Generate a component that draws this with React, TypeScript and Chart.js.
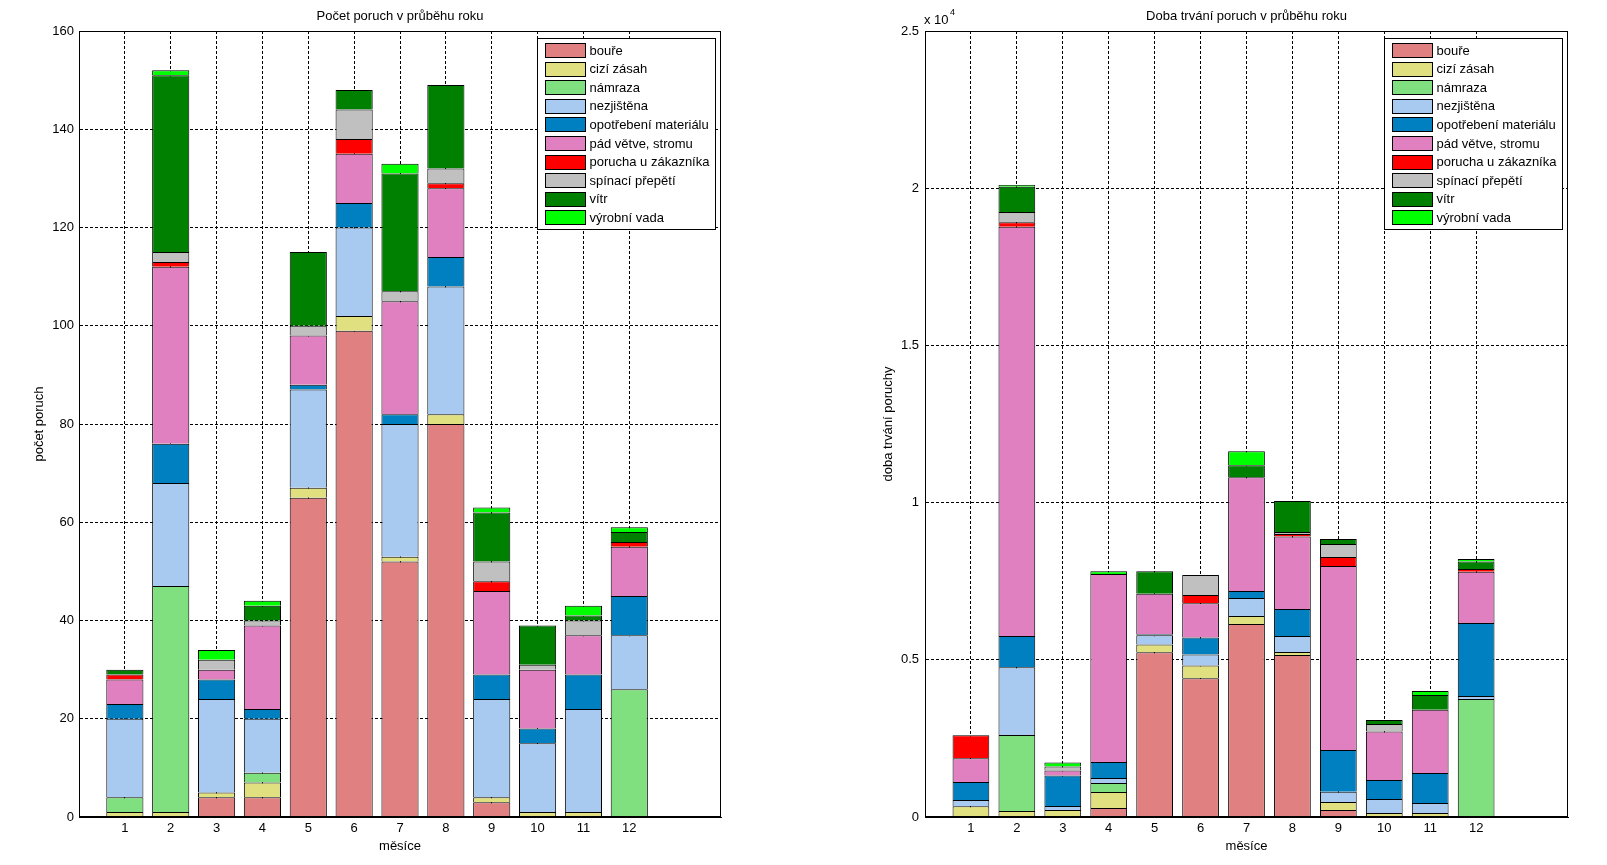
import React, { useEffect, useRef } from 'react';
import { Chart, registerables } from 'chart.js';

Chart.register(...registerables);

const FONT = '"Liberation Sans", Arial, Helvetica, sans-serif';

const months = [1, 2, 3, 4, 5, 6, 7, 8, 9, 10, 11, 12];

const seriesNames = [
  'bouře',
  'cizí zásah',
  'námraza',
  'nezjištěna',
  'opotřebení materiálu',
  'pád větve, stromu',
  'porucha u zákazníka',
  'spínací přepětí',
  'vítr',
  'výrobní vada',
];

const seriesColors = [
  '#E08080',
  '#E0E080',
  '#80E080',
  '#A8CAF0',
  '#0080C0',
  '#E080C0',
  '#FF0000',
  '#C0C0C0',
  '#008000',
  '#00FF00',
];

// Počet poruch (counts)
const pocetBoure = [0, 0, 4, 4, 65, 99, 52, 80, 3, 0, 0, 0];
const pocetCiziZasah = [1, 1, 1, 3, 2, 3, 1, 2, 1, 1, 1, 0];
const pocetNamraza = [3, 46, 0, 2, 0, 0, 0, 0, 0, 0, 0, 26];
const pocetNezjistena = [16, 21, 19, 11, 20, 18, 27, 26, 20, 14, 21, 11];
const pocetOpotrebeni = [3, 8, 4, 2, 1, 5, 2, 6, 5, 3, 7, 8];
const pocetPadVetve = [5, 36, 2, 17, 10, 10, 23, 14, 17, 12, 8, 10];
const pocetPorucha = [1, 1, 0, 0, 0, 3, 0, 1, 2, 0, 0, 1];
const pocetSpinaci = [0, 2, 2, 1, 2, 6, 2, 3, 4, 1, 3, 0];
const pocetVitr = [1, 36, 0, 3, 15, 4, 24, 17, 10, 8, 1, 2];
const pocetVyrobni = [0, 1, 2, 1, 0, 0, 2, 0, 1, 0, 2, 1];

// Doba trvání poruch (durations)
const dobaBoure = [0, 0, 0, 285, 5240, 4410, 6140, 5150, 225, 0, 0, 0];
const dobaCiziZasah = [340, 190, 220, 510, 250, 410, 255, 95, 255, 127, 127, 0];
const dobaNamraza = [0, 2420, 0, 285, 0, 0, 0, 0, 0, 0, 0, 3750];
const dobaNezjistena = [200, 2150, 130, 160, 290, 350, 570, 510, 320, 445, 318, 100];
const dobaOpotrebeni = [570, 1000, 970, 510, 30, 540, 225, 860, 1335, 605, 954, 2320];
const dobaPadVetve = [760, 13015, 160, 5980, 1290, 1085, 3620, 2310, 5850, 1545, 2014, 1630];
const dobaPorucha = [730, 140, 0, 0, 0, 265, 0, 75, 285, 0, 0, 85];
const dobaSpinaci = [0, 330, 125, 0, 0, 636, 0, 65, 415, 235, 0, 0];
const dobaVitr = [0, 805, 0, 0, 720, 0, 380, 985, 160, 125, 467, 245];
const dobaVyrobni = [0, 55, 125, 85, 0, 0, 445, 0, 0, 0, 127, 75];

const pocetSeries = [
  pocetBoure, pocetCiziZasah, pocetNamraza, pocetNezjistena, pocetOpotrebeni,
  pocetPadVetve, pocetPorucha, pocetSpinaci, pocetVitr, pocetVyrobni,
];
const dobaSeries = [
  dobaBoure, dobaCiziZasah, dobaNamraza, dobaNezjistena, dobaOpotrebeni,
  dobaPadVetve, dobaPorucha, dobaSpinaci, dobaVitr, dobaVyrobni,
];

type PanelCfg = {
  title: string;
  xTitle: string;
  yTitle: string;
  yTitleX: number;
  series: number[][];
  yMax: number;
  yStep: number;
  tickFmt: (v: number) => string;
  barPct: number;
  padRight: number;
  yAxisWidth: number;
  yTickPad: number;
  exponent?: boolean;
};

function makeChart(canvas: HTMLCanvasElement, cfg: PanelCfg) {
  const decor = {
    id: 'decor',
    afterDraw(chart: any) {
      const ctx = chart.ctx as CanvasRenderingContext2D;
      const a = chart.chartArea;
      ctx.save();
      ctx.setLineDash([]);
      ctx.strokeStyle = '#000';
      ctx.lineWidth = 1;
      const l = Math.round(a.left) + 0.5;
      const t = Math.round(a.top) + 0.5;
      const r = Math.round(a.right) - 0.5;
      const b = Math.round(a.bottom) - 0.5;
      ctx.strokeRect(l, t, r - l, b - t);

      ctx.fillStyle = '#000';
      ctx.font = `13px ${FONT}`;
      ctx.textAlign = 'center';
      ctx.textBaseline = 'middle';
      const cx = (a.left + a.right) / 2;
      ctx.fillText(cfg.title, cx, 16);
      ctx.fillText(cfg.xTitle, cx, 846);

      ctx.save();
      ctx.translate(cfg.yTitleX, (a.top + a.bottom) / 2);
      ctx.rotate(-Math.PI / 2);
      ctx.fillText(cfg.yTitle, 0, 0);
      ctx.restore();

      if (cfg.exponent) {
        ctx.textAlign = 'left';
        ctx.font = `13px ${FONT}`;
        ctx.fillText('x 10', a.left - 1, 20);
        ctx.font = `9px ${FONT}`;
        ctx.fillText('4', a.left + 25, 13);
      }

      // legend
      const bw = 178;
      const bh = 191;
      const bx = Math.round(a.right - 6 - bw) + 0.5;
      const by = Math.round(a.top + 7) + 0.5;
      ctx.fillStyle = '#fff';
      ctx.fillRect(bx, by, bw, bh);
      ctx.strokeRect(bx, by, bw, bh);
      ctx.font = `13px ${FONT}`;
      ctx.textAlign = 'left';
      ctx.textBaseline = 'middle';
      for (let i = 0; i < seriesNames.length; i++) {
        const cy = by + 11.5 + i * 18.6;
        const sx = bx + 8;
        const sy = Math.round(cy - 7) + 0.5;
        ctx.fillStyle = seriesColors[i];
        ctx.fillRect(sx, sy, 40, 14);
        ctx.strokeStyle = '#000';
        ctx.strokeRect(sx, sy, 40, 14);
        ctx.fillStyle = '#000';
        ctx.fillText(seriesNames[i], sx + 44, cy + 1);
      }
      ctx.restore();
    },
  };

  const datasets = cfg.series.map((vals, i) => ({
    label: seriesNames[i],
    data: vals.map((v, j) => ({ x: months[j], y: v })),
    backgroundColor: seriesColors[i],
    borderColor: '#000',
    borderWidth: 1,
    barPercentage: cfg.barPct,
    categoryPercentage: 1,
    stack: 's',
  }));

  return new Chart(canvas, {
    type: 'bar',
    data: { datasets } as any,
    plugins: [decor],
    options: {
      animation: false,
      responsive: false,
      devicePixelRatio: 1,
      layout: { padding: { left: 0, right: cfg.padRight, top: 31, bottom: 0 } },
      plugins: {
        legend: { display: false },
        title: { display: false },
        tooltip: { enabled: false },
      },
      scales: {
        x: {
          type: 'linear',
          stacked: true,
          min: 0,
          max: 14,
          offset: false,
          afterBuildTicks: (s: any) => {
            s.ticks = months.map((v) => ({ value: v }));
          },
          afterFit: (s: any) => {
            s.height = 48;
          },
          grid: { color: '#000', lineWidth: 1, drawTicks: false, offset: false },
          border: { display: true, color: '#000', width: 1, dash: [3, 2] },
          ticks: {
            font: { family: FONT, size: 13 },
            color: '#000',
            padding: 4,
            autoSkip: false,
            maxRotation: 0,
            callback: (v: any) => String(v),
          },
        },
        y: {
          type: 'linear',
          stacked: true,
          min: 0,
          max: cfg.yMax,
          afterFit: (s: any) => {
            s.width = cfg.yAxisWidth;
          },
          grid: { color: '#000', lineWidth: 1, drawTicks: false },
          border: { display: true, color: '#000', width: 1, dash: [3, 2] },
          ticks: {
            stepSize: cfg.yStep,
            font: { family: FONT, size: 13 },
            color: '#000',
            padding: cfg.yTickPad,
            callback: (v: any) => cfg.tickFmt(Number(v)),
          },
        },
      },
    } as any,
  });
}

export default function App() {
  const leftRef = useRef<HTMLCanvasElement | null>(null);
  const rightRef = useRef<HTMLCanvasElement | null>(null);

  useEffect(() => {
    const c1 = makeChart(leftRef.current!, {
      title: 'Počet poruch v průběhu roku',
      xTitle: 'měsíce',
      yTitle: 'počet poruch',
      yTitleX: 39,
      series: pocetSeries,
      yMax: 160,
      yStep: 20,
      tickFmt: (v) => String(v),
      barPct: 0.81,
      padRight: 82,
      yAxisWidth: 79,
      yTickPad: 5,
    });
    const c2 = makeChart(rightRef.current!, {
      title: 'Doba trvání poruch v průběhu roku',
      xTitle: 'měsíce',
      yTitle: 'doba trvání poruchy',
      yTitleX: 85,
      series: dobaSeries,
      yMax: 25000,
      yStep: 5000,
      tickFmt: (v) => String(v / 10000),
      barPct: 0.8,
      padRight: 39,
      yAxisWidth: 122,
      yTickPad: 6,
      exponent: true,
    });
    return () => {
      c1.destroy();
      c2.destroy();
    };
  }, []);

  return (
    <div style={{ position: 'absolute', left: 0, top: 0, width: 1607, height: 865, background: '#fff' }}>
      <canvas
        ref={leftRef}
        width={803}
        height={865}
        style={{ position: 'absolute', left: 0, top: 0, width: 803, height: 865 }}
      />
      <canvas
        ref={rightRef}
        width={804}
        height={865}
        style={{ position: 'absolute', left: 803, top: 0, width: 804, height: 865 }}
      />
    </div>
  );
}
